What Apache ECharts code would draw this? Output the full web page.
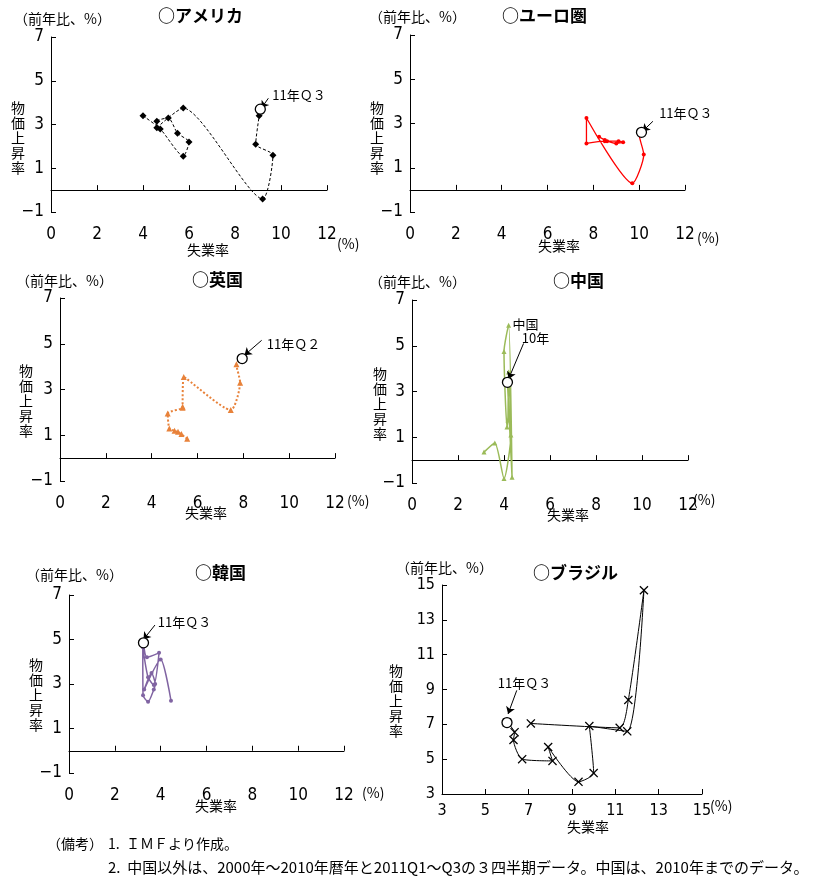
<!DOCTYPE html>
<html lang="ja">
<head>
  <meta charset="UTF-8">
  <title>phillips-curves</title>
  <script src="https://cdn.jsdelivr.net/npm/echarts@6/dist/echarts.min.js"></script>
  <style>
    html, body { margin: 0; padding: 0; background: #fff; }
    #main { width: 820px; height: 887px; }
  </style>
</head>
<body>
<div id="main"></div>
<script>
  // [失業率, 物価上昇率]  2000〜2010年, 2011Q1〜Q3
  var usa = [[4.0, 3.4], [4.75, 2.8], [5.75, 1.55], [6.0, 2.2], [5.5, 2.6], [5.1, 3.3], [4.6, 3.15],
    [4.6, 2.85], [5.75, 3.75], [9.2, -0.4], [9.65, 1.6], [8.9, 2.1], [9.05, 3.4], [9.1, 3.7]];
  var euro = [[8.6, 2.2], [8.25, 2.4], [8.5, 2.25], [9.0, 2.1], [9.3, 2.15], [9.1, 2.2], [8.5, 2.2],
    [7.7, 2.1], [7.7, 3.25], [9.7, 0.3], [10.2, 1.6], [10.0, 2.5], [10.1, 2.75], [10.1, 2.6]];
  var uk = [[5.55, 0.85], [5.15, 1.15], [5.3, 1.05], [5.0, 1.2], [4.77, 1.3], [4.7, 1.95], [5.35, 2.2],
    [5.35, 2.25], [5.4, 3.55], [7.45, 2.1], [7.86, 3.3], [7.7, 4.1], [7.95, 4.35]];
  var china = [[3.13, 0.35], [3.6, 0.75], [4.0, -0.8], [4.3, 1.1], [4.2, 3.85], [4.17, 1.75],
    [4.13, 1.45], [4.0, 4.75], [4.2, 5.9], [4.35, -0.75], [4.15, 3.4]];
  var korea = [[4.45, 2.25], [4.0, 4.1], [3.28, 2.75], [3.6, 3.5], [3.76, 3.0], [3.7, 2.75], [3.45, 2.2],
    [3.23, 2.5], [3.22, 4.65], [3.45, 3.3], [3.7, 2.95], [3.93, 4.4], [3.4, 4.2], [3.25, 4.85]];
  var brazil = [[7.1, 7.05], [11.2, 6.8], [11.6, 8.4], [12.32, 14.7], [11.55, 6.6], [9.8, 6.9], [10.0, 4.2],
    [9.3, 3.7], [7.9, 5.7], [8.1, 4.9], [6.7, 5.0], [6.3, 6.1], [6.35, 6.55], [6.0, 7.1]];

  var xTicks = [0, 2, 4, 6, 8, 10, 12];
  var yTicks = [-1, 1, 3, 5, 7];
  var brXTicks = [3, 5, 7, 9, 11, 13, 15];
  var brYTicks = [3, 5, 7, 9, 11, 13, 15];

  var titles = ['○アメリカ', '○ユーロ圏', '○英国', '○中国', '○韓国', '○ブラジル'];
  var notes = ['（備考）', '1.  ＩＭＦより作成。',
    '2.  中国以外は、2000年～2010年暦年と2011Q1～Q3の３四半期データ。中国は、2010年までのデータ。'];

  // 注記: 文字の位置, 矢印の始点, 矢印の終点 (データ座標)
  var annUsa = {text: ['11年Ｑ３'], at: [[9.6, 4.35]], from: [9.45, 4.2], to: [9.15, 3.75]};
  var annEuro = {text: ['11年Ｑ３'], at: [[10.85, 3.45]], from: [10.6, 3.1], to: [10.15, 2.65]};
  var annUk = {text: ['11年Ｑ２'], at: [[9.0, 5.0]], from: [8.8, 5.15], to: [8.05, 4.5]};
  var annChina = {text: ['中国', '10年'], at: [[4.35, 5.95], [4.75, 5.35]], from: [4.85, 5.1], to: [4.2, 3.55]};
  var annKorea = {text: ['11年Ｑ３'], at: [[3.85, 5.8]], from: [3.75, 5.65], to: [3.25, 5.0]};
  var annBrazil = {text: ['11年Ｑ３'], at: [[5.55, 9.35]], from: [6.45, 8.95], to: [6.05, 7.6]};

  var numFont = "'Liberation Sans Narrow', 'DejaVu Sans Condensed', sans-serif";
  var jpFont = "'Noto Sans CJK JP', sans-serif";
  var crossPath = 'path://M0,1L1,0L5,4L9,0L10,1L6,5L10,9L9,10L5,6L1,10L0,9L4,5Z';

  var panels = [
    {data: usa, ann: annUsa, circle: usa[usa.length - 1], color: '#000', line: [3, 2], width: 1,
      symbol: 'diamond', size: 7, grid: {left: 51, top: 37, width: 276, height: 175}},
    {data: euro, ann: annEuro, circle: euro[euro.length - 1], color: '#ff0000', line: 'solid', width: 1.3,
      symbol: 'circle', size: 4, grid: {left: 410, top: 35, width: 275, height: 177}},
    {data: uk, ann: annUk, circle: uk[uk.length - 1], color: '#e8823a', line: 'dotted', width: 2,
      symbol: 'triangle', size: 6, grid: {left: 60, top: 298, width: 275, height: 183}},
    {data: china, ann: annChina, circle: china[china.length - 1], color: '#9bbb59', line: 'solid', width: 1.5,
      symbol: 'triangle', size: 5, grid: {left: 412, top: 300, width: 276, height: 183}},
    {data: korea, ann: annKorea, circle: korea[korea.length - 1], color: '#8064a2', line: 'solid', width: 1.5,
      symbol: 'circle', size: 4, grid: {left: 69, top: 595, width: 275, height: 178}},
    {data: brazil, ann: annBrazil, circle: brazil[brazil.length - 1], color: '#000', line: 'solid', width: 1,
      symbol: crossPath, size: 9, grid: {left: 442, top: 585, width: 260, height: 209},
      br: true}
  ];

  var grid = [], xAxis = [], yAxis = [], series = [];
  panels.forEach(function (p, i) {
    var xt = p.br ? brXTicks : xTicks;
    var yt = p.br ? brYTicks : yTicks;
    var fs = p.br ? 16 : 17;
    grid.push(p.grid);
    // 軸線はゼロの位置、目盛ラベルはグラフ下端
    xAxis.push({
      gridIndex: i, type: 'value', min: xt[0], max: xt[xt.length - 1], position: 'bottom',
      axisLine: {onZero: true, lineStyle: {color: '#000', width: 1}},
      axisTick: {inside: true, length: 5, customValues: xt, lineStyle: {color: '#000'}},
      splitLine: {show: false}, splitArea: {show: false},
      axisLabel: {customValues: xt, fontSize: fs, color: '#000', fontFamily: numFont, margin: p.br ? 9 : 14}
    });
    yAxis.push({
      gridIndex: i, type: 'value', min: yt[0], max: yt[yt.length - 1], position: 'left',
      axisLine: {show: true, onZero: false, lineStyle: {color: '#000', width: 1}},
      axisTick: {show: true, inside: true, length: 5, customValues: yt, lineStyle: {color: '#000'}},
      axisLabel: {
        customValues: yt, fontSize: fs, color: '#000', fontFamily: numFont, margin: 7,
        formatter: function (v) { return String(v).replace('-', '−'); }
      },
      splitLine: {show: false}, splitArea: {show: false}
    });
    series.push({
      type: 'line', xAxisIndex: i, yAxisIndex: i, data: p.data, smooth: 0.22, clip: false,
      symbol: p.symbol, symbolSize: p.size,
      lineStyle: {color: p.color, width: p.width, type: p.line},
      itemStyle: {color: p.color},
      markPoint: {
        symbol: 'circle', symbolSize: 1, silent: true,
        itemStyle: {color: 'rgba(0,0,0,0)'},
        label: {show: true, position: 'right', distance: 0, color: '#000', fontSize: 13, fontFamily: jpFont,
          formatter: function (d) { return d.name; }},
        data: p.ann.at.map(function (c, k) { return {name: p.ann.text[k], coord: c}; })
      },
      markLine: {
        silent: true, symbol: ['none', 'arrow'], symbolSize: 7, label: {show: false},
        lineStyle: {color: '#000', width: 1, type: 'solid'},
        data: [[{coord: p.ann.from}, {coord: p.ann.to}]]
      }
    });
    series.push({
      type: 'scatter', xAxisIndex: i, yAxisIndex: i, data: [p.circle], symbol: 'circle', clip: false,
      symbolSize: 10, z: 5, itemStyle: {color: '#fff', opacity: 1, borderColor: '#000', borderWidth: 1.3}
    });
  });

  // パネル毎の文字 (位置のみ)
  var labelPos = [
    {unit: [14, 21], title: [158, 18], ylab: [11, 100], xlab: [187, 252], pct: [337, 246]},
    {unit: [369, 19], title: [502, 18], ylab: [370, 100], xlab: [538, 248], pct: [697, 240]},
    {unit: [16, 283], title: [192, 282], ylab: [19, 363], xlab: [185, 515], pct: [347, 503]},
    {unit: [369, 284], title: [553, 283], ylab: [373, 366], xlab: [547, 517], pct: [693, 502]},
    {unit: [26, 577], title: [195, 575], ylab: [29, 657], xlab: [195, 808], pct: [362, 795]},
    {unit: [396, 570], title: [533, 575], ylab: [389, 663], xlab: [567, 829], pct: [710, 808]}
  ];
  var graphic = [];
  labelPos.forEach(function (l, i) {
    graphic.push({type: 'text', left: l.unit[0], top: l.unit[1] - 9,
      style: {text: '（前年比、%）', fontSize: 14, fontFamily: jpFont, fill: '#000'}});
    graphic.push({type: 'text', left: l.title[0], top: l.title[1] - 11,
      style: {text: titles[i], fontSize: 17, fontFamily: jpFont, fontWeight: 'bold', fill: '#000'}});
    graphic.push({type: 'text', left: l.ylab[0], top: l.ylab[1],
      style: {text: '物\n価\n上\n昇\n率', fontSize: 14, lineHeight: 15, fontFamily: jpFont, fill: '#000'}});
    graphic.push({type: 'text', left: l.xlab[0], top: l.xlab[1] - 9,
      style: {text: '失業率', fontSize: 14, fontFamily: jpFont, fill: '#000'}});
    graphic.push({type: 'text', left: l.pct[0], top: l.pct[1] - 9,
      style: {text: '(%)', fontSize: 14, fontFamily: jpFont, fill: '#000'}});
  });
  graphic.push({type: 'text', left: 47, top: 837, style: {text: notes[0], fontSize: 14, fontFamily: jpFont, fill: '#000'}});
  graphic.push({type: 'text', left: 108, top: 837, style: {text: notes[1], fontSize: 14, fontFamily: jpFont, fill: '#000'}});
  graphic.push({type: 'text', left: 108, top: 860, style: {text: notes[2], fontSize: 15, fontFamily: jpFont, fill: '#000'}});

  var myChart = echarts.init(document.getElementById('main'));
  myChart.setOption({
    backgroundColor: '#fff',
    animation: false,
    grid: grid,
    xAxis: xAxis,
    yAxis: yAxis,
    series: series,
    graphic: graphic
  });
</script>
</body>
</html>
